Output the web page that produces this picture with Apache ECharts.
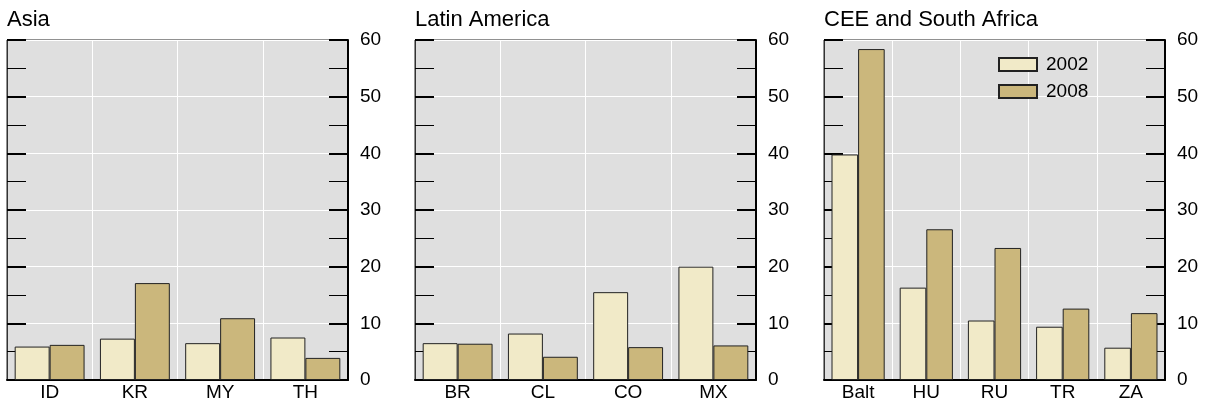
<!DOCTYPE html>
<html>
<head>
<meta charset="utf-8">
<script src="https://cdn.jsdelivr.net/npm/echarts@6/dist/echarts.min.js"></script>
<style>
  body { margin: 0; background: #fff; }
  #main { width: 1206px; height: 405px; }
</style>
</head>
<body>
<div id="main"></div>
<script>
// values (percent)
const asiaCats = ['ID', 'KR', 'MY', 'TH'];
const asia2002 = [5.9, 7.3, 6.5, 7.5];
const asia2008 = [6.2, 17.1, 10.9, 3.9];

const latamCats = ['BR', 'CL', 'CO', 'MX'];
const latam2002 = [6.5, 8.2, 15.5, 20.0];
const latam2008 = [6.4, 4.1, 5.8, 6.1];

const ceeCats = ['Balt', 'HU', 'RU', 'TR', 'ZA'];
const cee2002 = [39.8, 16.3, 10.5, 9.4, 5.7];
const cee2008 = [58.4, 26.6, 23.3, 12.6, 11.8];

const years = ['2002', '2008'];
const panelTitles = ['Asia', 'Latin America', 'CEE and South Africa'];

const font = 'Liberation Sans, Arial, Helvetica, sans-serif';
const c2002 = '#f1eac8';
const c2008 = '#cbb77c';

const panels = [
  { left: 7, cats: asiaCats, a: asia2002, b: asia2008, gap: '18%' },
  { left: 415, cats: latamCats, a: latam2002, b: latam2008, gap: '18%' },
  { left: 824, cats: ceeCats, a: cee2002, b: cee2008, gap: '22%' }
];

const grid = [], xAxis = [], yAxis = [], series = [], title = [];

panels.forEach((p, i) => {
  title.push({
    text: panelTitles[i],
    left: p.left,
    top: 9,
    padding: 0,
    textStyle: { fontFamily: font, fontSize: 22, fontWeight: 'normal', color: '#000' }
  });
  grid.push({
    left: p.left, top: 40, width: 341, height: 340,
    show: true, backgroundColor: '#dfdfdf', borderColor: '#222', borderWidth: 1
  });
  xAxis.push({
    type: 'category', gridIndex: i, data: p.cats,
    axisLine: { lineStyle: { color: '#000', width: 2 } },
    axisTick: { inside: true, length: 37, lineStyle: { color: '#000', width: 2 } },
    axisLabel: { fontFamily: font, fontSize: 19, color: '#000', margin: 3 },
    splitLine: { show: true, lineStyle: { color: '#fff', width: 1 } }
  });
  // right axis with labels
  yAxis.push({
    type: 'value', gridIndex: i, position: 'right', min: 0, max: 60, interval: 10,
    axisLine: { show: true, lineStyle: { color: '#000', width: 2 } },
    axisTick: { show: true, inside: true, length: 19, lineStyle: { color: '#000', width: 2 } },
    minorTick: { show: true, splitNumber: 2, length: 19, lineStyle: { color: '#000', width: 1 } },
    axisLabel: { fontFamily: font, fontSize: 19, color: '#000', margin: 12 },
    splitLine: { show: true, lineStyle: { color: '#fff', width: 1 } }
  });
  // left axis, ticks only
  yAxis.push({
    type: 'value', gridIndex: i, position: 'left', min: 0, max: 60, interval: 10,
    axisLine: { show: true, lineStyle: { color: '#333', width: 1 } },
    axisTick: { show: true, inside: true, length: 19, lineStyle: { color: '#000', width: 2 } },
    minorTick: { show: true, splitNumber: 2, length: 19, lineStyle: { color: '#000', width: 1 } },
    axisLabel: { show: false },
    splitLine: { show: false }
  });
  [p.a, p.b].forEach((vals, k) => {
    series.push({
      name: years[k], type: 'bar',
      xAxisIndex: i, yAxisIndex: 2 * i,
      data: vals,
      barGap: '0%', barCategoryGap: p.gap,
      itemStyle: { color: k === 0 ? c2002 : c2008, borderColor: '#222', borderWidth: 1 },
      emphasis: { disabled: true }
    });
  });
});

const chart = echarts.init(document.getElementById('main'));
chart.setOption({
  animation: false,
  title: title,
  legend: {
    data: years, orient: 'vertical', left: 998, top: 55, padding: 0,
    itemWidth: 38, itemHeight: 13, itemGap: 8, icon: 'rect',
    textStyle: { fontFamily: font, fontSize: 19, color: '#000', padding: [0, 0, 0, 4] }
  },
  grid: grid,
  xAxis: xAxis,
  yAxis: yAxis,
  series: series
});
window.addEventListener('resize', () => chart.resize());
</script>
</body>
</html>
